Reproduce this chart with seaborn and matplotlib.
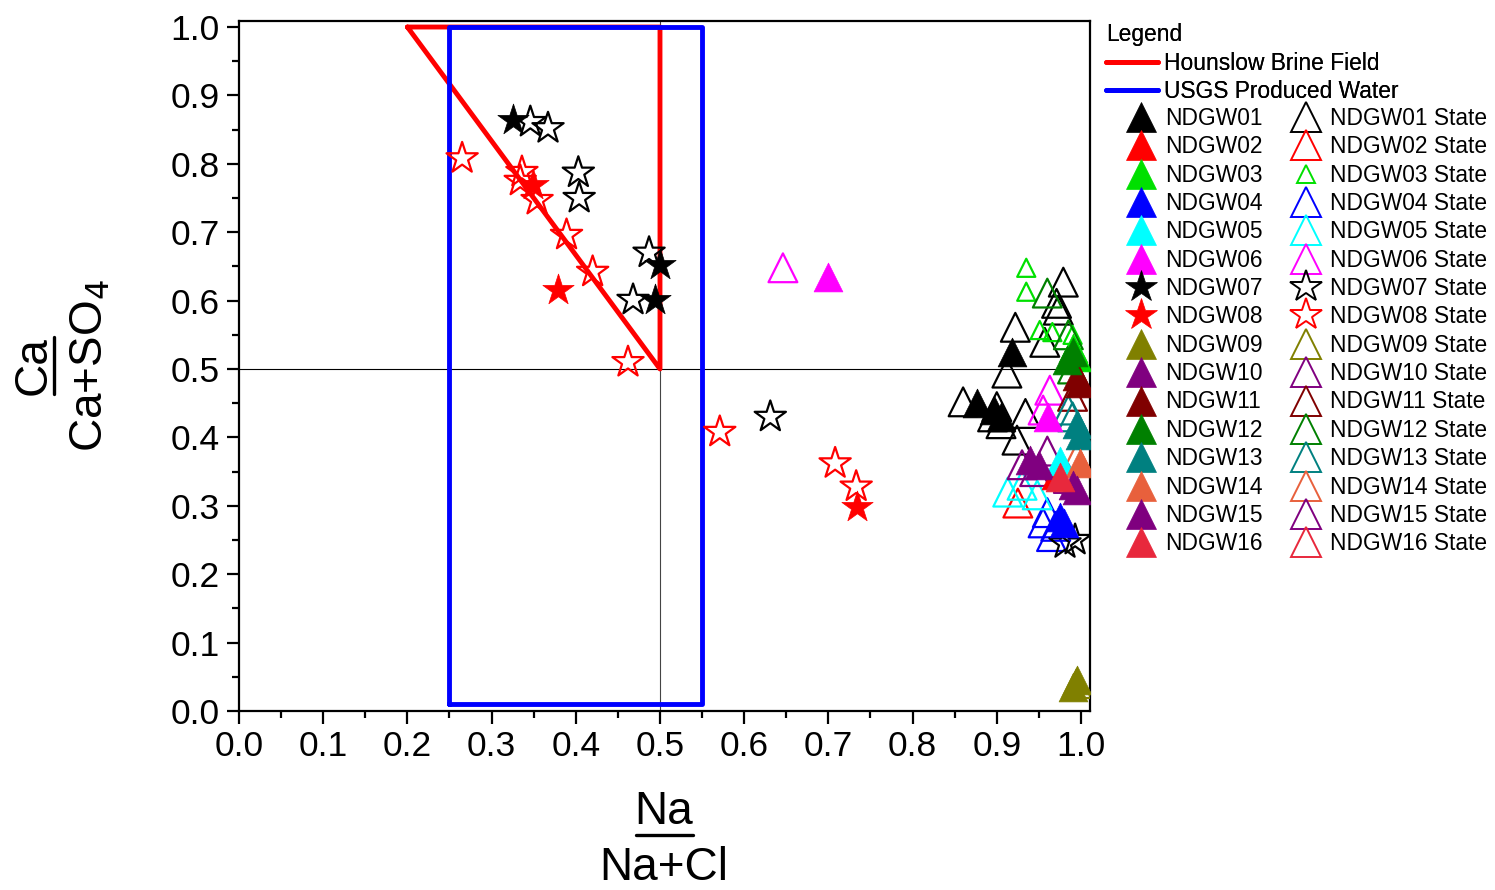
import matplotlib
matplotlib.use("Agg")
import matplotlib.pyplot as plt
from matplotlib.lines import Line2D
import seaborn as sns
import pandas as pd

sns.set_style("ticks")
plt.rcParams['font.family'] = ['Liberation Sans', 'DejaVu Sans']
plt.rcParams['text.color'] = 'black'
plt.rcParams['axes.labelcolor'] = 'black'
plt.rcParams['xtick.color'] = 'black'
plt.rcParams['ytick.color'] = 'black'
plt.rcParams['axes.edgecolor'] = 'black'

# ---------------- data ----------------
brine_x = [0.2, 0.5, 0.5, 0.2]
brine_y = [1.0, 1.0, 0.5, 1.0]
usgs_x = [0.25, 0.55, 0.55, 0.25, 0.25]
usgs_y = [0.01, 0.01, 1.0, 1.0, 0.01]

wells = ["NDGW01", "NDGW02", "NDGW03", "NDGW04", "NDGW05", "NDGW06", "NDGW07", "NDGW08",
         "NDGW09", "NDGW10", "NDGW11", "NDGW12", "NDGW13", "NDGW14", "NDGW15", "NDGW16"]
colors = ["#000000", "#FF0000", "#00E000", "#0000FF", "#00FFFF", "#FF00FF", "#000000", "#FF0000",
          "#808000", "#800080", "#800000", "#008000", "#008080", "#E8603C", "#7F007F", "#E8283C"]
markers = ["^", "^", "^", "^", "^", "^", "*", "*", "^", "^", "^", "^", "^", "^", "^", "^"]

ndgw_x = {
    "NDGW01": [0.918, 0.876, 0.897, 0.905],
    "NDGW02": [0.970],
    "NDGW03": [0.995, 0.990],
    "NDGW04": [0.975, 0.980],
    "NDGW05": [0.975],
    "NDGW06": [0.700, 0.961],
    "NDGW07": [0.325, 0.500, 0.494],
    "NDGW08": [0.349, 0.379, 0.734],
    "NDGW09": [0.995, 0.990],
    "NDGW10": [0.939, 0.950],
    "NDGW11": [0.999, 0.995],
    "NDGW12": [0.983, 0.990],
    "NDGW13": [0.999, 0.995],
    "NDGW14": [0.999],
    "NDGW15": [0.995, 0.990],
    "NDGW16": [0.975],
}
ndgw_y = {
    "NDGW01": [0.525, 0.450, 0.440, 0.430],
    "NDGW02": [0.345],
    "NDGW03": [0.518, 0.530],
    "NDGW04": [0.284, 0.275],
    "NDGW05": [0.365],
    "NDGW06": [0.635, 0.430],
    "NDGW07": [0.864, 0.652, 0.601],
    "NDGW08": [0.769, 0.615, 0.298],
    "NDGW09": [0.045, 0.035],
    "NDGW10": [0.367, 0.360],
    "NDGW11": [0.479, 0.490],
    "NDGW12": [0.513, 0.525],
    "NDGW13": [0.404, 0.420],
    "NDGW14": [0.363],
    "NDGW15": [0.323, 0.330],
    "NDGW16": [0.342],
}
state_x = {
    "NDGW01": [0.979, 0.971, 0.973, 0.922, 0.957, 0.912, 0.860, 0.900, 0.934, 0.924, 0.895, 0.905],
    "NDGW02": [0.925],
    "NDGW03": [0.935, 0.935, 0.951, 0.966, 0.990],
    "NDGW04": [0.955, 0.965, 0.970, 0.960],
    "NDGW05": [0.913, 0.948, 0.930],
    "NDGW06": [0.646, 0.963, 0.955],
    "NDGW07": [0.346, 0.367, 0.403, 0.404, 0.487, 0.468, 0.631, 0.981, 0.993],
    "NDGW08": [0.265, 0.336, 0.334, 0.354, 0.389, 0.420, 0.462, 0.571, 0.708, 0.733],
    "NDGW09": [0.995],
    "NDGW10": [0.930, 0.945, 0.960],
    "NDGW11": [0.990],
    "NDGW12": [0.960, 0.985, 0.990],
    "NDGW13": [0.990, 0.985],
    "NDGW14": [0.995],
    "NDGW15": [0.985],
    "NDGW16": [0.980],
}
state_y = {
    "NDGW01": [0.627, 0.596, 0.586, 0.561, 0.539, 0.494, 0.452, 0.445, 0.435, 0.396, 0.430, 0.420],
    "NDGW02": [0.304],
    "NDGW03": [0.648, 0.613, 0.557, 0.554, 0.550],
    "NDGW04": [0.275, 0.255, 0.270, 0.290],
    "NDGW05": [0.320, 0.316, 0.330],
    "NDGW06": [0.648, 0.469, 0.440],
    "NDGW07": [0.861, 0.852, 0.787, 0.750, 0.670, 0.601, 0.430, 0.245, 0.250],
    "NDGW08": [0.808, 0.788, 0.775, 0.747, 0.696, 0.642, 0.510, 0.408, 0.362, 0.328],
    "NDGW09": [0.040],
    "NDGW10": [0.360, 0.350, 0.380],
    "NDGW11": [0.460],
    "NDGW12": [0.611, 0.550, 0.500],
    "NDGW13": [0.430, 0.440],
    "NDGW14": [0.370],
    "NDGW15": [0.340],
    "NDGW16": [0.350],
}

xticks = [0.0, 0.1, 0.2, 0.3, 0.4, 0.5, 0.6, 0.7, 0.8, 0.9, 1.0]
yticks = [0.0, 0.1, 0.2, 0.3, 0.4, 0.5, 0.6, 0.7, 0.8, 0.9, 1.0]

# ---------------- figure ----------------
W, H = 1495, 890
fig = plt.figure(figsize=(W / 100, H / 100), dpi=100)
ax = fig.add_axes([239 / W, 1 - 711 / H, (1090 - 239) / W, (711 - 21) / H])

# reference lines
ax.axhline(0.5, color="black", lw=0.8, zorder=1)
ax.axvline(0.5, color="#444444", lw=0.8, zorder=1)

sns.lineplot(x=brine_x, y=brine_y, sort=False, estimator=None, color="#FF0000", lw=3.5, ax=ax, zorder=2)
sns.lineplot(x=usgs_x, y=usgs_y, sort=False, estimator=None, color="#0000FF", lw=3.5, ax=ax, zorder=2.5)

TRI = 430
STAR = 560
for w, c, m in zip(wells, colors, markers):
    s = STAR if m == "*" else TRI
    ss = 170 if w == "NDGW03" else s
    df_s = pd.DataFrame({"x": state_x[w], "y": state_y[w]})
    sns.scatterplot(data=df_s, x="x", y="y", marker=m, s=ss, color=c, facecolor="none",
                    edgecolor=c, linewidth=1.6, ax=ax, legend=False, zorder=3)
    df_f = pd.DataFrame({"x": ndgw_x[w], "y": ndgw_y[w]})
    sns.scatterplot(data=df_f, x="x", y="y", marker=m, s=s, color=c, edgecolor=c,
                    linewidth=0.5, ax=ax, legend=False, zorder=4)

ax.set_xlim(0, 1.0107)
ax.set_ylim(0, 1.0088)
ax.set_xticks(xticks)
ax.set_yticks(yticks)
ax.set_xticklabels([f"{v:.1f}" for v in xticks])
ax.set_yticklabels([f"{v:.1f}" for v in yticks])
ax.set_xticks([0.05 + 0.1 * i for i in range(10)], minor=True)
ax.set_yticks([0.05 + 0.1 * i for i in range(10)], minor=True)
ax.tick_params(which="major", direction="out", length=9, width=1.6, labelsize=25.5, pad=5,
               top=False, right=False, color="black", labelcolor="black")
ax.tick_params(which="minor", direction="out", length=5, width=1.6, top=False, right=False)
for sp in ax.spines.values():
    sp.set_linewidth(1.6)
    sp.set_color("black")
ax.set_xlabel("")
ax.set_ylabel("")

# axis labels as stacked fractions
fs_lab = 33
fig.text(664 / W, 1 - 812 / H, "Na", ha="center", va="center", fontsize=fs_lab)
fig.add_artist(Line2D([636 / W, 693 / W], [1 - 835 / H, 1 - 835 / H], color="black", lw=2.4))
fig.text(664 / W, 1 - 868 / H, "Na+Cl", ha="center", va="center", fontsize=fs_lab)

fig.text(34 / W, 1 - 366 / H, "Ca", ha="center", va="center", rotation=90, fontsize=fs_lab)
fig.add_artist(Line2D([54 / W, 54 / W], [1 - 337 / H, 1 - 394 / H], color="black", lw=2.4))
fig.text(91 / W, 1 - 366 / H, r"Ca+SO$_4$", ha="center", va="center", rotation=90, fontsize=fs_lab)

# legends
fs_leg = 16.4
line_handles = [Line2D([], [], color="#FF0000", lw=3.5), Line2D([], [], color="#0000FF", lw=3.5)]
leg1 = fig.legend(line_handles, ["Hounslow Brine Field", "USGS Produced Water"], title="Legend",
                  loc="upper left", bbox_to_anchor=(1090 / W, 1 - 7 / H), frameon=False,
                  fontsize=fs_leg, title_fontsize=fs_leg, handlelength=2.3, handletextpad=0.25,
                  labelspacing=0.25, borderpad=0.2, alignment="left")
fig.add_artist(leg1)

mk_handles = []
mk_labels = []
for w, c, m in zip(wells, colors, markers):
    ms = 22 if m == "^" else 24
    mk_handles.append(Line2D([], [], ls="none", marker=m, ms=ms, color=c, mec=c, mew=0.5))
    mk_labels.append(w)
for w, c, m in zip(wells, colors, markers):
    ms = 22 if m == "^" else 24
    if w == "NDGW03":
        ms = 13
    mk_handles.append(Line2D([], [], ls="none", marker=m, ms=ms, mfc="none", mec=c, mew=1.4))
    mk_labels.append(w + " State")
leg2 = fig.legend(mk_handles, mk_labels, ncol=2, loc="upper left",
                  bbox_to_anchor=(1108 / W, 1 - 91 / H), frameon=False, fontsize=fs_leg,
                  handlelength=1.5, handletextpad=0.3, labelspacing=0.235, columnspacing=1.15,
                  borderpad=0.2)

fig.savefig("out.png", dpi=100)
